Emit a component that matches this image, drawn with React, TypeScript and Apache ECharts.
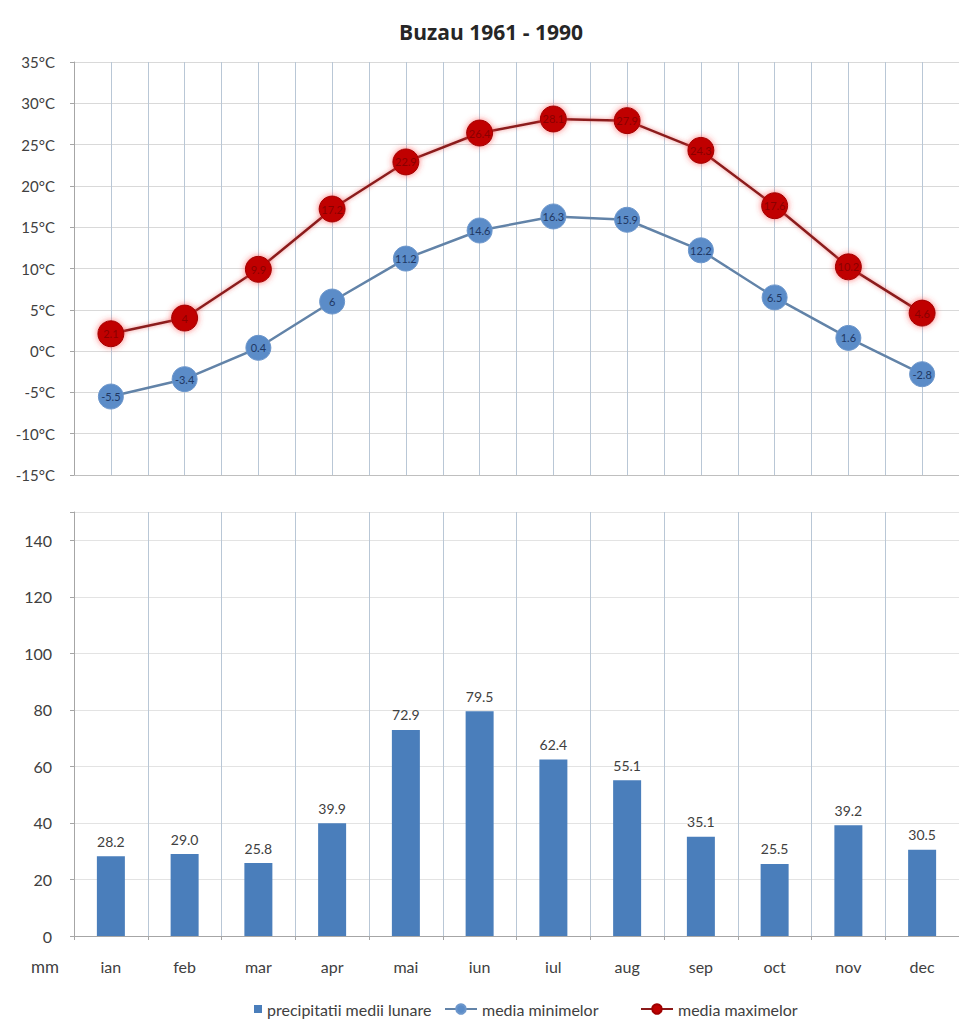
import React, { useEffect, useRef } from "react";
import * as echarts from "echarts";

const months = ["ian", "feb", "mar", "apr", "mai", "iun", "iul", "aug", "sep", "oct", "nov", "dec"];
const precip = [28.2, 29.0, 25.8, 39.9, 72.9, 79.5, 62.4, 55.1, 35.1, 25.5, 39.2, 30.5];
const tMin = [-5.5, -3.4, 0.4, 6, 11.2, 14.6, 16.3, 15.9, 12.2, 6.5, 1.6, -2.8];
const tMax = [2.1, 4.0, 9.9, 17.2, 22.9, 26.4, 28.1, 27.9, 24.3, 17.6, 10.2, 4.6];
const titleText = "Buzau 1961 - 1990";
const FONT = "Lato, 'Liberation Sans', sans-serif";

export default function App() {
  const ref = useRef<HTMLDivElement>(null);
  useEffect(() => {
    if (!ref.current) return;
    const chart = echarts.init(ref.current, null, { renderer: "svg" });
    const gridTop = { left: 74, top: 62, width: 894, height: 413 };
    const gridBot = { left: 74, top: 512, width: 894, height: 424 };
    const legendText = { fontFamily: FONT, fontSize: 16, color: "#404040" };
    chart.setOption({
      animation: false,
      backgroundColor: "#ffffff",
      textStyle: { fontFamily: FONT },
      title: {
        text: titleText,
        left: 486,
        top: 16,
        textAlign: "center",
        textStyle: { fontFamily: "'Open Sans', sans-serif", fontSize: 21, fontWeight: "bold", color: "#262626" },
      },
      legend: [
        {
          data: [{ name: "precipitatii medii lunare", icon: "rect" }],
          left: 254,
          top: 1001,
          padding: 0,
          itemWidth: 8,
          itemHeight: 8,
          textStyle: legendText,
        },
        {
          data: ["media minimelor"],
          left: 444,
          top: 1001,
          padding: 0,
          itemWidth: 32,
          itemHeight: 12,
          textStyle: legendText,
        },
        {
          data: ["media maximelor"],
          left: 640,
          top: 1001,
          padding: 0,
          itemWidth: 32,
          itemHeight: 12,
          textStyle: legendText,
        },
      ],
      grid: [gridTop, gridBot],
      xAxis: [
        {
          type: "category",
          gridIndex: 0,
          data: months,
          boundaryGap: true,
          axisLine: { onZero: false, lineStyle: { color: "#bfbfbf" } },
          axisTick: { show: false },
          axisLabel: { show: false },
          splitLine: { show: false },
        },
        {
          type: "value",
          gridIndex: 0,
          min: 0,
          max: 24,
          interval: 1,
          position: "top",
          axisLine: { show: false },
          axisTick: { show: false },
          axisLabel: { show: false },
          splitLine: { show: true, lineStyle: { color: "#b9c7d6", width: 1 } },
        },
        {
          type: "category",
          gridIndex: 1,
          data: months,
          boundaryGap: true,
          axisLine: { onZero: false, lineStyle: { color: "#a6a6a6" } },
          axisTick: { show: true, length: 4, lineStyle: { color: "#a6a6a6" } },
          axisLabel: { color: "#404040", fontSize: 16, margin: 22, fontFamily: FONT },
          splitLine: { show: true, lineStyle: { color: "#b9c7d6", width: 1 } },
        },
      ],
      yAxis: [
        {
          type: "value",
          gridIndex: 0,
          min: -15,
          max: 35,
          interval: 5,
          axisLine: { show: true, lineStyle: { color: "#a6a6a6" } },
          axisTick: { show: true, length: 4, lineStyle: { color: "#a6a6a6" } },
          axisLabel: {
            color: "#404040",
            fontSize: 15,
            margin: 19,
            fontFamily: FONT,
            formatter: (v: number) => v + "°C",
          },
          splitLine: { show: true, lineStyle: { color: "#d9d9d9" } },
        },
        {
          type: "value",
          gridIndex: 1,
          min: 0,
          max: 150,
          interval: 20,
          axisLine: { show: true, lineStyle: { color: "#a6a6a6" } },
          axisTick: { show: true, length: 4, lineStyle: { color: "#a6a6a6" } },
          axisLabel: {
            color: "#404040",
            fontSize: 16,
            margin: 22,
            fontFamily: FONT,
            formatter: (v: number) => (v > 140 ? "" : String(v)),
          },
          splitLine: { show: true, lineStyle: { color: "#e3e3e3" } },
        },
      ],
      graphic: [
        {
          type: "text",
          left: 31,
          top: 958,
          style: { text: "mm", fontSize: 17, fill: "#404040", fontFamily: FONT },
        },
      ],
      series: [
        {
          name: "precipitatii medii lunare",
          type: "bar",
          xAxisIndex: 2,
          yAxisIndex: 1,
          data: precip,
          barWidth: 28,
          itemStyle: { color: "#4a7ebb" },
          label: {
            show: true,
            position: "top",
            distance: 8,
            color: "#404040",
            fontSize: 14,
            fontFamily: FONT,
            formatter: (p: any) => Number(p.value).toFixed(1),
          },
        },
        {
          name: "media minimelor",
          type: "line",
          xAxisIndex: 0,
          yAxisIndex: 0,
          data: tMin,
          symbol: "circle",
          symbolSize: 25,
          lineStyle: { color: "#6283a8", width: 2.5 },
          itemStyle: { color: "#5b8cc8", borderColor: "#6d97cc", borderWidth: 1 },
          label: {
            show: true,
            position: "inside",
            color: "#1f3864",
            fontSize: 11,
            fontFamily: FONT,
          },
          z: 3,
        },
        {
          name: "media maximelor",
          type: "line",
          xAxisIndex: 0,
          yAxisIndex: 0,
          data: tMax,
          symbol: "circle",
          symbolSize: 26,
          lineStyle: {
            color: "#8b1a1a",
            width: 2.5,
            shadowColor: "rgba(230,60,60,0.6)",
            shadowBlur: 4,
          },
          itemStyle: {
            color: "#c00000",
            borderColor: "#a00000",
            borderWidth: 1,
            shadowColor: "rgba(255,60,60,0.7)",
            shadowBlur: 6,
          },
          label: {
            show: true,
            position: "inside",
            color: "#8a0000",
            fontSize: 11,
            fontFamily: FONT,
          },
          z: 4,
        },
      ],
    });
    return () => chart.dispose();
  }, []);
  return (
    <div
      ref={ref}
      style={{ position: "absolute", left: 0, top: 0, width: 959, height: 1019 }}
    />
  );
}
